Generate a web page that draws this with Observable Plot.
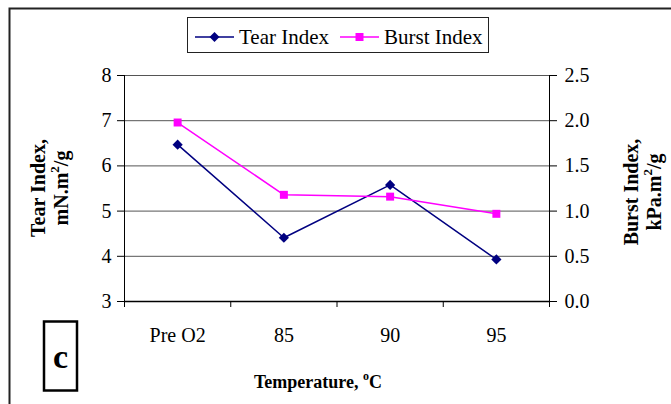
<!DOCTYPE html>
<html>
<head>
<meta charset="utf-8">
<script src="https://cdn.jsdelivr.net/npm/d3@7"></script>
<script src="https://cdn.jsdelivr.net/npm/@observablehq/plot@0.6"></script>
<style>
  html, body { margin: 0; padding: 0; background: #fff; }
  #chart svg { display: block; }
  #chart svg .extra text { font-family: 'Liberation Serif', 'Times New Roman', serif; }
</style>
</head>
<body>
<div id="chart"></div>
<script>
// Tear and burst indices of the pulp versus bleaching temperature
const categories = ["Pre O2", "85", "90", "95"];
const tearIndex = [6.47, 4.41, 5.58, 3.93];   // mN.m²/g (left axis)
const burstIndex = [1.98, 1.18, 1.16, 0.97];  // kPa.m²/g (right axis)
const tearTicks = [3, 4, 5, 6, 7, 8];
const burstTicks = [0, 0.5, 1.0, 1.5, 2.0, 2.5];

// Right axis 0–2.5 shares the pixel range of the left axis 3–8
const burstToTear = b => 3 + b * 2;
const tearToBurst = t => (t - 3) / 2;

const rows = categories.map((c, i) => ({
  pos: i + 0.5,
  tear: tearIndex[i],
  burst: burstToTear(burstIndex[i])
}));

const font = "'Liberation Serif', 'Times New Roman', serif";

const chart = Plot.plot({
  width: 671,
  height: 404,
  marginLeft: 124,
  marginRight: 122,
  marginTop: 75,
  marginBottom: 103,
  style: { fontFamily: font, fontSize: "20px", color: "#000", background: "#fff", overflow: "visible" },
  x: { domain: [0, categories.length] },
  y: { domain: [3, 8] },
  marks: [
    Plot.gridY(tearTicks, { stroke: "#555", strokeOpacity: 1 }),
    Plot.ruleX([0], { stroke: "#000" }),
    Plot.ruleX([categories.length], { stroke: "#000" }),
    Plot.ruleY([3], { stroke: "#000", strokeWidth: 1.5 }),
    Plot.axisY({ anchor: "left", ticks: tearTicks, tickFormat: d => String(d), tickSize: 7, tickPadding: 6, label: null }),
    Plot.axisY({
      anchor: "right",
      ticks: burstTicks.map(burstToTear),
      tickFormat: d => tearToBurst(d).toFixed(1),
      tickSize: 7, tickPadding: 8, label: null
    }),
    Plot.axisX({ ticks: d3.range(categories.length + 1), tickSize: 6, tickFormat: () => "", label: null }),
    Plot.axisX({
      ticks: categories.map((c, i) => i + 0.5),
      tickSize: 0, tickPadding: 26,
      tickFormat: d => categories[Math.floor(d)], label: null
    }),
    Plot.line(rows, { x: "pos", y: "tear", stroke: "#000080", strokeWidth: 1.5 }),
    Plot.dot(rows, { x: "pos", y: "tear", symbol: "diamond2", r: 4.6, fill: "#000080", stroke: "none" }),
    Plot.line(rows, { x: "pos", y: "burst", stroke: "#ff00ff", strokeWidth: 1.5 }),
    Plot.dot(rows, { x: "pos", y: "burst", symbol: "square", r: 4.5, fill: "#ff00ff", stroke: "none" })
  ]
});

document.getElementById("chart").appendChild(chart);

// Frame, legend, axis titles and panel letter
const svg = d3.select(chart);
const g = svg.append("g").attr("class", "extra")
  .attr("font-family", font).attr("fill", "#000").attr("text-anchor", "start");

g.append("path")
  .attr("d", "M9.5,404 V8.5 H671")
  .attr("fill", "none").attr("stroke", "#222").attr("stroke-width", 2);

// legend
const lg = g.append("g");
lg.append("rect").attr("x", 187.5).attr("y", 17.5).attr("width", 301).attr("height", 35)
  .attr("fill", "#fff").attr("stroke", "#222").attr("stroke-width", 1);
const items = [
  { label: "Tear Index", color: "#000080", symbol: d3.symbolDiamond2, x0: 195 },
  { label: "Burst Index", color: "#ff00ff", symbol: d3.symbolSquare, x0: 340 }
];
for (const it of items) {
  lg.append("line").attr("x1", it.x0).attr("x2", it.x0 + 39).attr("y1", 37).attr("y2", 37)
    .attr("stroke", it.color).attr("stroke-width", 1.5);
  lg.append("path").attr("d", d3.symbol(it.symbol, 64)())
    .attr("transform", `translate(${it.x0 + 19.5},37)`).attr("fill", it.color);
  lg.append("text").attr("x", it.x0 + 44).attr("y", 43.5)
    .attr("text-anchor", "start").attr("font-size", 21).text(it.label);
}

// rotated two-line axis title with a superscript 2
function yTitle(cx1, cx2, cy, line1, pre, post) {
  g.append("text").attr("transform", `translate(${cx1},${cy}) rotate(-90)`)
    .attr("text-anchor", "middle").attr("font-weight", "bold").attr("font-size", 20).text(line1);
  const t2 = g.append("text").attr("transform", `translate(${cx2},${cy}) rotate(-90)`)
    .attr("text-anchor", "middle").attr("font-weight", "bold").attr("font-size", 20);
  t2.append("tspan").text(pre);
  t2.append("tspan").attr("dy", -9).attr("font-size", 13).text("2");
  t2.append("tspan").attr("dy", 9).text(post);
}
yTitle(45, 68, 188, "Tear Index,", "mN.m", "/g");
yTitle(638, 661, 192, "Burst Index,", "kPa.m", "/g");

// x title
const xt = g.append("text").attr("x", 318).attr("y", 388).attr("text-anchor", "middle")
  .attr("font-weight", "bold").attr("font-size", 18);
xt.append("tspan").text("Temperature, ");
xt.append("tspan").attr("dy", -8).attr("font-size", 12).text("o");
xt.append("tspan").attr("dy", 8).text("C");

// panel letter
g.append("rect").attr("x", 44).attr("y", 321.5).attr("width", 33).attr("height", 69)
  .attr("fill", "#fff").attr("stroke", "#000").attr("stroke-width", 2.5);
g.append("text").attr("x", 60.5).attr("y", 368).attr("text-anchor", "middle")
  .attr("font-weight", "bold").attr("font-size", 34).text("c");
</script>
</body>
</html>
